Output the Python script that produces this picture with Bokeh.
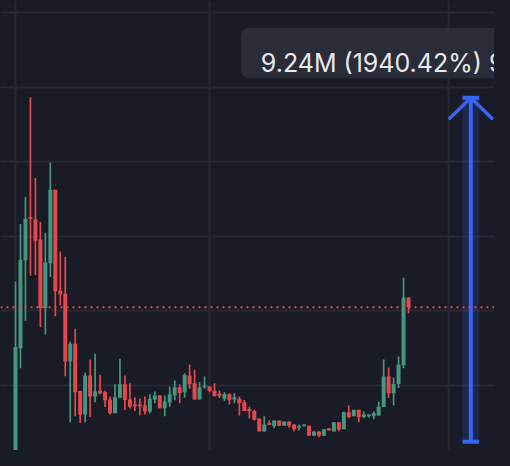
from bokeh.plotting import figure
from bokeh.models import Range1d, Grid, FixedTicker, Span, ColumnDataSource, GlobalInlineStyleSheet
from bokeh.embed import file_html
from bokeh.resources import INLINE
from bokeh.core.properties import value

# ---------------- data (values in millions) ----------------
opens = [0.06, 2.99, 5.35, 6.51, 6.45, 5.91, 4.07, 5.27, 7.25, 4.54,
         4.45, 2.63, 3.11, 1.84, 1.21, 2.26, 1.69, 1.85, 1.81, 1.61,
         1.24, 1.66, 2.02, 1.61, 1.48, 1.48, 1.45, 1.29, 1.61, 1.72,
         1.38, 1.53, 1.72, 1.94, 1.81, 2.26, 2.05, 1.61, 1.94, 1.96,
         1.85, 1.77, 1.63, 1.75, 1.61, 1.63, 1.54, 1.36, 1.30, 1.10,
         0.75, 0.98, 0.89, 1.05, 0.91, 1.02, 0.94, 0.85, 0.89, 0.91,
         0.64, 0.75, 0.64, 0.84, 0.75, 1.00, 0.81, 1.27, 1.16, 1.34,
         1.14, 1.16, 1.16, 1.18, 1.41, 2.23, 1.78, 2.03, 2.53, 4.35]
highs = [4.78, 6.33, 7.05, 9.73, 7.56, 6.39, 6.09, 7.98, 7.25, 5.59,
         5.45, 3.17, 3.51, 1.85, 2.33, 2.69, 2.84, 2.28, 1.85, 1.69,
         2.02, 2.71, 2.26, 2.05, 1.67, 1.64, 1.69, 1.75, 1.83, 1.72,
         1.72, 1.96, 2.12, 2.02, 2.32, 2.55, 2.41, 2.08, 2.23, 1.96,
         2.05, 1.85, 1.81, 1.78, 1.78, 1.69, 1.60, 1.42, 1.34, 1.10,
         1.16, 1.05, 1.05, 1.05, 1.02, 1.02, 0.94, 0.94, 0.94, 0.91,
         0.75, 0.75, 0.81, 0.84, 1.00, 1.00, 1.29, 1.45, 1.34, 1.34,
         1.29, 1.21, 1.29, 1.56, 2.69, 2.47, 2.20, 2.77, 4.89, 4.35]
lows = [0.01, 2.45, 3.73, 4.94, 4.96, 3.55, 3.36, 4.90, 3.85, 4.14,
        2.24, 1.00, 1.16, 0.98, 1.00, 1.14, 1.54, 1.75, 1.41, 1.21,
        1.24, 1.66, 1.32, 1.37, 1.30, 1.19, 1.21, 1.24, 1.51, 1.38,
        1.16, 1.42, 1.59, 1.51, 1.66, 1.90, 1.61, 1.61, 1.90, 1.81,
        1.70, 1.65, 1.57, 1.48, 1.51, 1.18, 1.30, 1.10, 1.05, 0.75,
        0.75, 0.93, 0.84, 0.89, 0.91, 0.85, 0.76, 0.78, 0.89, 0.64,
        0.64, 0.60, 0.64, 0.78, 0.75, 0.76, 0.81, 1.11, 1.16, 1.00,
        1.11, 1.12, 1.08, 1.18, 1.41, 1.65, 1.45, 1.92, 2.45, 3.93]
closes = [3.02, 5.37, 6.47, 6.46, 5.88, 4.07, 5.30, 7.25, 4.52, 4.44,
          2.63, 3.11, 1.81, 1.21, 2.26, 1.69, 1.83, 1.77, 1.59, 1.24,
          1.67, 2.02, 1.60, 1.42, 1.43, 1.43, 1.29, 1.63, 1.72, 1.38,
          1.56, 1.75, 1.94, 1.79, 2.28, 2.02, 1.61, 1.94, 1.99, 1.84,
          1.70, 1.71, 1.75, 1.59, 1.67, 1.51, 1.30, 1.30, 1.07, 0.75,
          0.94, 0.93, 1.05, 0.91, 1.02, 0.91, 0.82, 0.89, 0.94, 0.64,
          0.75, 0.64, 0.81, 0.78, 1.00, 0.80, 1.27, 1.14, 1.34, 1.14,
          1.21, 1.21, 1.24, 1.42, 2.23, 1.78, 2.03, 2.55, 4.35, 4.09]

time_ticks = [0, 39, 87]                 # bar indices of vertical grid lines
price_ticks = [0, 2, 4, 6, 8, 10, 12]    # millions

measure_low = 0.4762                     # M
measure_change = 9.24                    # M
measure_bars = [89.85, 93.2]             # bar span of the measure
label_text = "9.24M (1940.42%) 924,000"

# ---------------- style ----------------
BG = "#191b26"
GRID = "#262834"
GREEN = "#44977e"
RED = "#e5484c"
BLUE = "#3864f5"
BOX = "#2a2d38"

W, H = 494, 450
BAR_PX = 4.975        # pixels per bar
M_PX = 37.22          # pixels per million
FIRST_BAR_PX = 15     # first bar centre from the plot's left edge
ZERO_PX = 9           # zero level below the plot's bottom edge

x0 = -FIRST_BAR_PX / BAR_PX
y0 = ZERO_PX / M_PX

p = figure(width=W, height=H,
           x_range=Range1d(x0, x0 + W / BAR_PX),
           y_range=Range1d(y0, y0 + H / M_PX),
           x_axis_type=None, y_axis_type=None,
           toolbar_location=None, output_backend="svg",
           min_border=0, background_fill_color=BG, border_fill_color=BG,
           outline_line_color=None)
p.stylesheets = [GlobalInlineStyleSheet(css="body { background-color: %s; }" % BG)]

p.add_layout(Grid(dimension=0, ticker=FixedTicker(ticks=time_ticks),
                  grid_line_color=GRID, grid_line_width=2))
p.add_layout(Grid(dimension=1, ticker=FixedTicker(ticks=price_ticks),
                  grid_line_color=GRID, grid_line_width=2))

idx = list(range(len(opens)))
colors = [GREEN if c >= o else RED for o, c in zip(opens, closes)]
tops = [max(o, c) for o, c in zip(opens, closes)]
bots = [min(o, c) for o, c in zip(opens, closes)]
src = ColumnDataSource(dict(x=idx, high=highs, low=lows, top=tops, bottom=bots, color=colors))

p.segment(x0="x", y0="low", x1="x", y1="high", color="color", line_width=1.7, source=src)
p.vbar(x="x", width=0.8, top="top", bottom="bottom", fill_color="color", line_color=None, source=src)

# last price line
p.add_layout(Span(location=closes[-1], dimension="width", line_color=RED,
                  line_dash="2 4", line_width=2))

# measure tool
measure_high = measure_low + measure_change
mx = (measure_bars[0] + measure_bars[1]) / 2
p.quad(left=measure_bars[0], right=measure_bars[1], bottom=measure_low, top=measure_high,
       fill_color=BLUE, fill_alpha=0.18, line_color=None)
p.segment(x0=[mx], y0=[measure_low], x1=[mx], y1=[measure_high], line_color=BLUE, line_width=4)
p.segment(x0=[measure_bars[0], measure_bars[0]], y0=[measure_low, measure_high],
          x1=[measure_bars[1], measure_bars[1]], y1=[measure_low, measure_high],
          line_color=BLUE, line_width=4)
arm_dx = 21 / BAR_PX
arm_dy = 20.5 / M_PX
p.segment(x0=[mx, mx], y0=[measure_high, measure_high],
          x1=[mx - arm_dx, mx + arm_dx], y1=[measure_high - arm_dy, measure_high - arm_dy],
          line_color=BLUE, line_width=3.5, line_cap="round")

# label
box_half = 230 / BAR_PX
p.quad(left=mx - box_half, right=mx + box_half,
       bottom=measure_high + 19.5 / M_PX, top=measure_high + 70 / M_PX,
       fill_color=BOX, line_color=None, border_radius=8)
p.text(x=[mx - box_half + 20 / BAR_PX], y=[measure_high + 35 / M_PX], text=[label_text],
       text_font=value("Inter"), text_font_size="25px", text_color="#e8e9ee",
       text_baseline="alphabetic", text_align="left")

open("out.html", "w").write(file_html(p, INLINE))
